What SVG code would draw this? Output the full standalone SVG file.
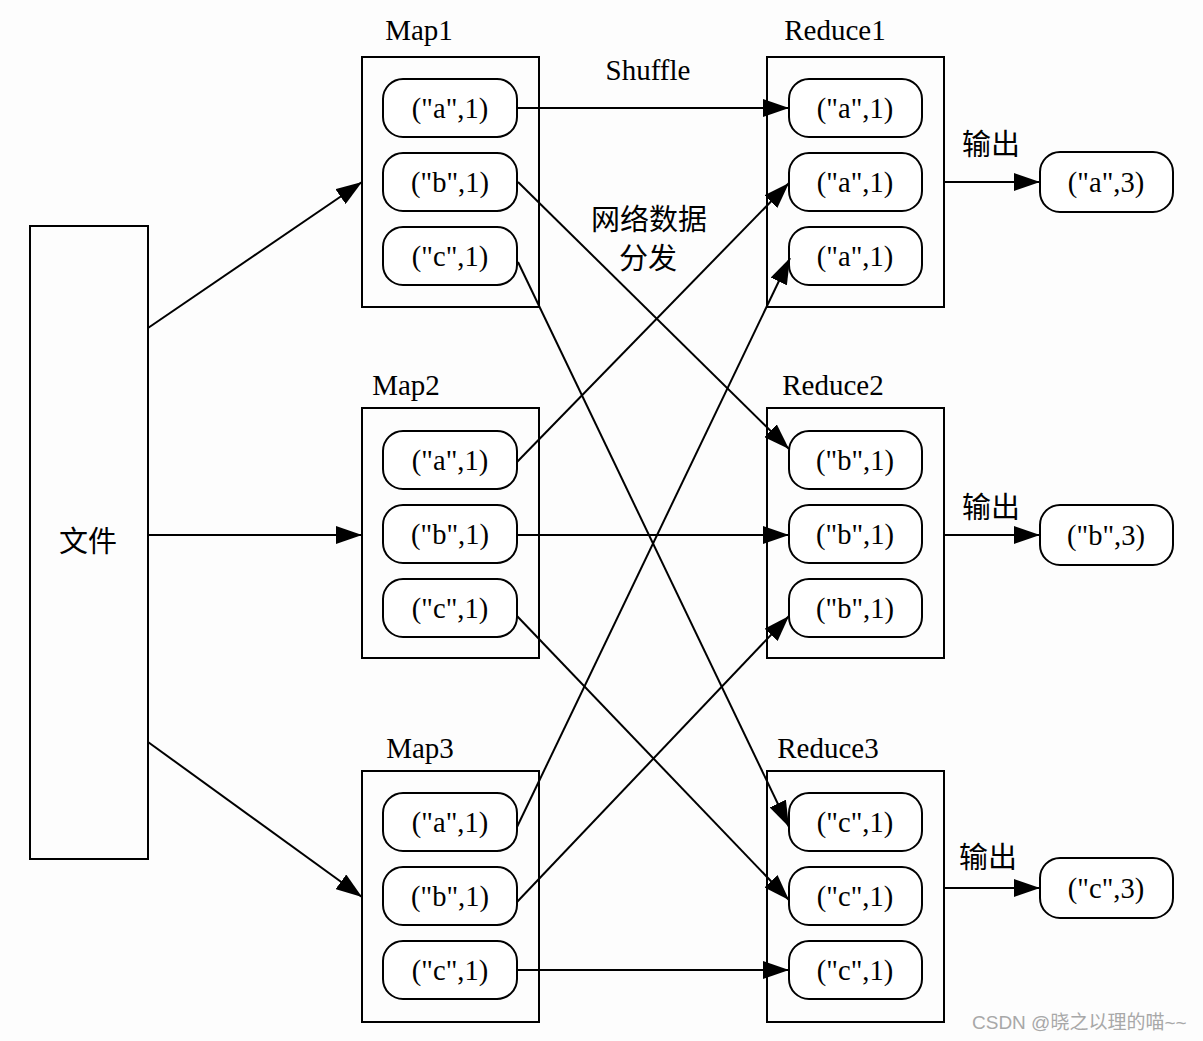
<svg xmlns="http://www.w3.org/2000/svg" width="1203" height="1041" viewBox="0 0 1203 1041">
<style>
.box{fill:none;stroke:#000;stroke-width:2}
.pill{fill:#fff;stroke:#000;stroke-width:2}
.t{font-family:"Liberation Serif","Times New Roman",serif;font-size:28.5px;fill:#000;text-anchor:middle}
.lbl{font-family:"Liberation Serif","Times New Roman",serif;font-size:29px;fill:#000;text-anchor:middle}
.cn{font-family:"Noto Sans CJK SC","Noto Sans",sans-serif;font-size:29px;fill:#000;text-anchor:middle}
.edge{fill:none;stroke:#000;stroke-width:2;marker-end:url(#ah)}
.wm{font-family:"Liberation Sans","Noto Sans CJK SC",sans-serif;font-size:19px;fill:#a8a8a8}
</style>
<defs>
<marker id="ah" markerUnits="userSpaceOnUse" viewBox="0 0 26 18" refX="26" refY="9" markerWidth="26" markerHeight="18" orient="auto">
<path d="M0,0 L26,9 L0,18 Z" fill="#000"/>
</marker>
</defs>
<rect x="0" y="0" width="1203" height="1041" fill="#fdfdfd"/>

<g id="file">
<rect class="box" x="30" y="226" width="118" height="633"/>
<text class="cn" x="88" y="552" font-size="30">文件</text>
</g>

<g id="map1">
<text class="lbl" x="419" y="40">Map1</text>
<rect class="box" x="362" y="57" width="177" height="250"/>
<rect class="pill" x="383" y="79" width="134" height="58" rx="20"/>
<text class="t" x="450" y="118">("a",1)</text>
<rect class="pill" x="383" y="153" width="134" height="58" rx="20"/>
<text class="t" x="450" y="192">("b",1)</text>
<rect class="pill" x="383" y="227" width="134" height="58" rx="20"/>
<text class="t" x="450" y="266">("c",1)</text>
</g>

<g id="map2">
<text class="lbl" x="406" y="395">Map2</text>
<rect class="box" x="362" y="408" width="177" height="250"/>
<rect class="pill" x="383" y="431" width="134" height="58" rx="20"/>
<text class="t" x="450" y="470">("a",1)</text>
<rect class="pill" x="383" y="505" width="134" height="58" rx="20"/>
<text class="t" x="450" y="544">("b",1)</text>
<rect class="pill" x="383" y="579" width="134" height="58" rx="20"/>
<text class="t" x="450" y="618">("c",1)</text>
</g>

<g id="map3">
<text class="lbl" x="420" y="758">Map3</text>
<rect class="box" x="362" y="771" width="177" height="251"/>
<rect class="pill" x="383" y="793" width="134" height="58" rx="20"/>
<text class="t" x="450" y="832">("a",1)</text>
<rect class="pill" x="383" y="867" width="134" height="58" rx="20"/>
<text class="t" x="450" y="906">("b",1)</text>
<rect class="pill" x="383" y="941" width="134" height="58" rx="20"/>
<text class="t" x="450" y="980">("c",1)</text>
</g>

<g id="reduce1">
<text class="lbl" x="835" y="40">Reduce1</text>
<rect class="box" x="767" y="57" width="177" height="250"/>
<rect class="pill" x="789" y="79" width="133" height="58" rx="20"/>
<text class="t" x="855" y="118">("a",1)</text>
<rect class="pill" x="789" y="153" width="133" height="58" rx="20"/>
<text class="t" x="855" y="192">("a",1)</text>
<rect class="pill" x="789" y="227" width="133" height="58" rx="20"/>
<text class="t" x="855" y="266">("a",1)</text>
</g>

<g id="reduce2">
<text class="lbl" x="833" y="395">Reduce2</text>
<rect class="box" x="767" y="408" width="177" height="250"/>
<rect class="pill" x="789" y="431" width="133" height="58" rx="20"/>
<text class="t" x="855" y="470">("b",1)</text>
<rect class="pill" x="789" y="505" width="133" height="58" rx="20"/>
<text class="t" x="855" y="544">("b",1)</text>
<rect class="pill" x="789" y="579" width="133" height="58" rx="20"/>
<text class="t" x="855" y="618">("b",1)</text>
</g>

<g id="reduce3">
<text class="lbl" x="828" y="758">Reduce3</text>
<rect class="box" x="767" y="771" width="177" height="251"/>
<rect class="pill" x="789" y="793" width="133" height="58" rx="20"/>
<text class="t" x="855" y="832">("c",1)</text>
<rect class="pill" x="789" y="867" width="133" height="58" rx="20"/>
<text class="t" x="855" y="906">("c",1)</text>
<rect class="pill" x="789" y="941" width="133" height="58" rx="20"/>
<text class="t" x="855" y="980">("c",1)</text>
</g>

<g id="outA">
<rect class="pill" x="1040" y="152" width="133" height="60" rx="20"/>
<text class="t" x="1106" y="192">("a",3)</text>
</g>
<g id="outB">
<rect class="pill" x="1040" y="505" width="133" height="60" rx="20"/>
<text class="t" x="1106" y="545">("b",3)</text>
</g>
<g id="outC">
<rect class="pill" x="1040" y="858" width="133" height="60" rx="20"/>
<text class="t" x="1106" y="898">("c",3)</text>
</g>

<g id="labels">
<text class="lbl" x="648" y="80" font-size="28">Shuffle</text>
<text class="cn" x="649" y="230">网络数据</text>
<text class="cn" x="648" y="269">分发</text>
<text class="cn" x="991" y="155">输出</text>
<text class="cn" x="991" y="518">输出</text>
<text class="cn" x="988" y="868">输出</text>
</g>

<g id="connectors">
<line class="edge" x1="148" y1="328" x2="362" y2="182"/>
<line class="edge" x1="148" y1="535" x2="362" y2="535"/>
<line class="edge" x1="148" y1="742" x2="362" y2="897"/>
<line class="edge" x1="517" y1="108" x2="789" y2="108"/>
<line class="edge" x1="518" y1="182" x2="789" y2="449"/>
<line class="edge" x1="518" y1="262" x2="789" y2="827"/>
<line class="edge" x1="517" y1="462" x2="789" y2="183"/>
<line class="edge" x1="517" y1="535" x2="789" y2="535"/>
<line class="edge" x1="517" y1="616" x2="789" y2="900"/>
<line class="edge" x1="517" y1="827" x2="790" y2="258"/>
<line class="edge" x1="517" y1="902" x2="789" y2="616"/>
<line class="edge" x1="517" y1="970" x2="789" y2="970"/>
<line class="edge" x1="944" y1="182" x2="1040" y2="182"/>
<line class="edge" x1="944" y1="535" x2="1040" y2="535"/>
<line class="edge" x1="944" y1="888" x2="1040" y2="888"/>
</g>

<text class="wm" x="972" y="1029">CSDN @晓之以理的喵~~</text>
</svg>
